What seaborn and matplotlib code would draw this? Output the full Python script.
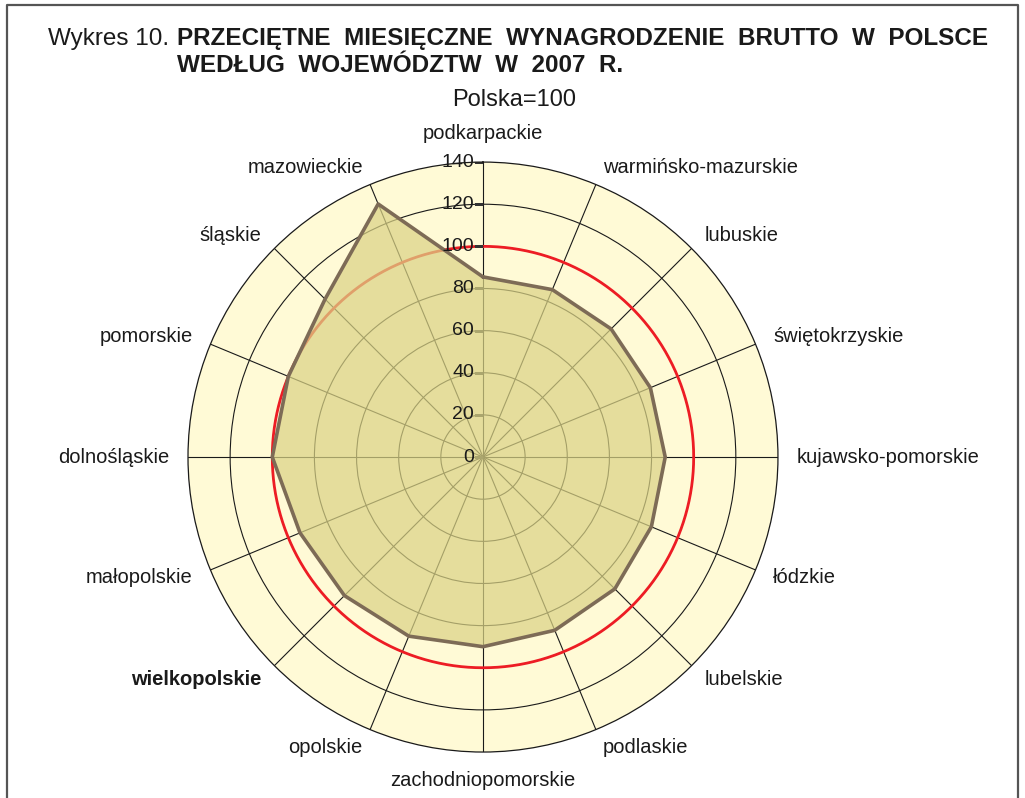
import numpy as np
import matplotlib
matplotlib.use("Agg")
import matplotlib.pyplot as plt
import seaborn as sns

# voivodeships, clockwise from the top
regions = ["podkarpackie", "warmińsko-mazurskie", "lubuskie", "świętokrzyskie",
           "kujawsko-pomorskie", "łódzkie", "lubelskie", "podlaskie",
           "zachodniopomorskie", "opolskie", "wielkopolskie", "małopolskie",
           "dolnośląskie", "pomorskie", "śląskie", "mazowieckie"]
# average gross monthly wage, Poland = 100
wage_index = [85.5, 86, 86, 86, 86.5, 86.5, 88.5, 89,
              90, 92, 93, 94, 100, 100, 106, 130]
r_ticks = [0, 20, 40, 60, 80, 100, 120, 140]
bold_region = "wielkopolskie"

sns.set_theme(style="white")
plt.rcParams["font.family"] = ["Liberation Sans", "DejaVu Sans"]

fig = plt.figure(figsize=(10.25, 7.98), dpi=100)
ax = fig.add_axes([0.1834, 0.0576, 0.5756, 0.7393], projection="polar")
ax.set_theta_zero_location("N")
ax.set_theta_direction(-1)
ax.set_ylim(0, 140)
ax.set_facecolor("#FFFAD6")
ax.set_axisbelow(True)

n = len(regions)
theta = np.arange(n) * 2 * np.pi / n
ax.set_xticks(theta)
ax.set_xticklabels([])
ax.set_yticks(r_ticks[1:-1])
ax.set_yticklabels([])
ax.grid(True, color="#1a1a1a", lw=0.8)
ax.spines["polar"].set_color("#1a1a1a")
ax.spines["polar"].set_linewidth(0.9)

# Polska = 100 reference circle
circ = np.linspace(0, 2 * np.pi, 361)
ax.plot(circ, np.full_like(circ, 100), color="#ED1C24", lw=2.0, zorder=0.9)

# closed polygon
th_c = np.append(theta, 2 * np.pi)
v_c = np.append(wage_index, wage_index[0])
ax.fill(th_c, v_c, color="#DBD386", alpha=0.72, zorder=1)
sns.lineplot(x=th_c, y=v_c, ax=ax, sort=False, color="#7D6B56", lw=2.6, zorder=2)

# radial tick labels along the top spoke
ax.plot(np.zeros(len(r_ticks)), r_ticks, ls="none", marker=[(-1, 0), (0, 0)],
        ms=13, mew=0.8, color="#333333", zorder=0.95)
for r in r_ticks:
    ax.annotate(str(r), (0, r), xytext=(-6.5, 0), textcoords="offset points",
                ha="right", va="center", fontsize=14, color="#1a1a1a", zorder=4)

# category labels
for t, name in zip(theta, regions):
    s, c = np.sin(t), np.cos(t)
    ha = "left" if s > 0.1 else ("right" if s < -0.1 else "center")
    va = "center"
    if abs(s) < 0.1:
        va = "bottom" if c > 0 else "top"
    ax.text(t, 149, name, ha=ha, va=va, fontsize=14.5, color="#1a1a1a",
            fontweight="bold" if name == bold_region else "normal")

# titles
fig.text(48 / 1025, 1 - 39 / 798, "Wykres 10.", fontsize=17.5, va="center", color="#1a1a1a")
fig.text(177 / 1025, 1 - 39 / 798,
         "PRZECIĘTNE  MIESIĘCZNE  WYNAGRODZENIE  BRUTTO  W  POLSCE",
         fontsize=17.5, fontweight="bold", va="center", color="#1a1a1a")
fig.text(177 / 1025, 1 - 66 / 798, "WEDŁUG  WOJEWÓDZTW  W  2007  R.",
         fontsize=17.5, fontweight="bold", va="center", color="#1a1a1a")
fig.text(514 / 1025, 1 - 100 / 798, "Polska=100", fontsize=17, ha="center",
         va="center", color="#1a1a1a")

# frame
x0, x1, yt = 7 / 1025, 1018 / 1025, 1 - 5 / 798
fig.add_artist(plt.Line2D([x0, x0, x1, x1], [0, yt, yt, 0], color="#555555", lw=1.6))

fig.savefig("out.png", dpi=100)
